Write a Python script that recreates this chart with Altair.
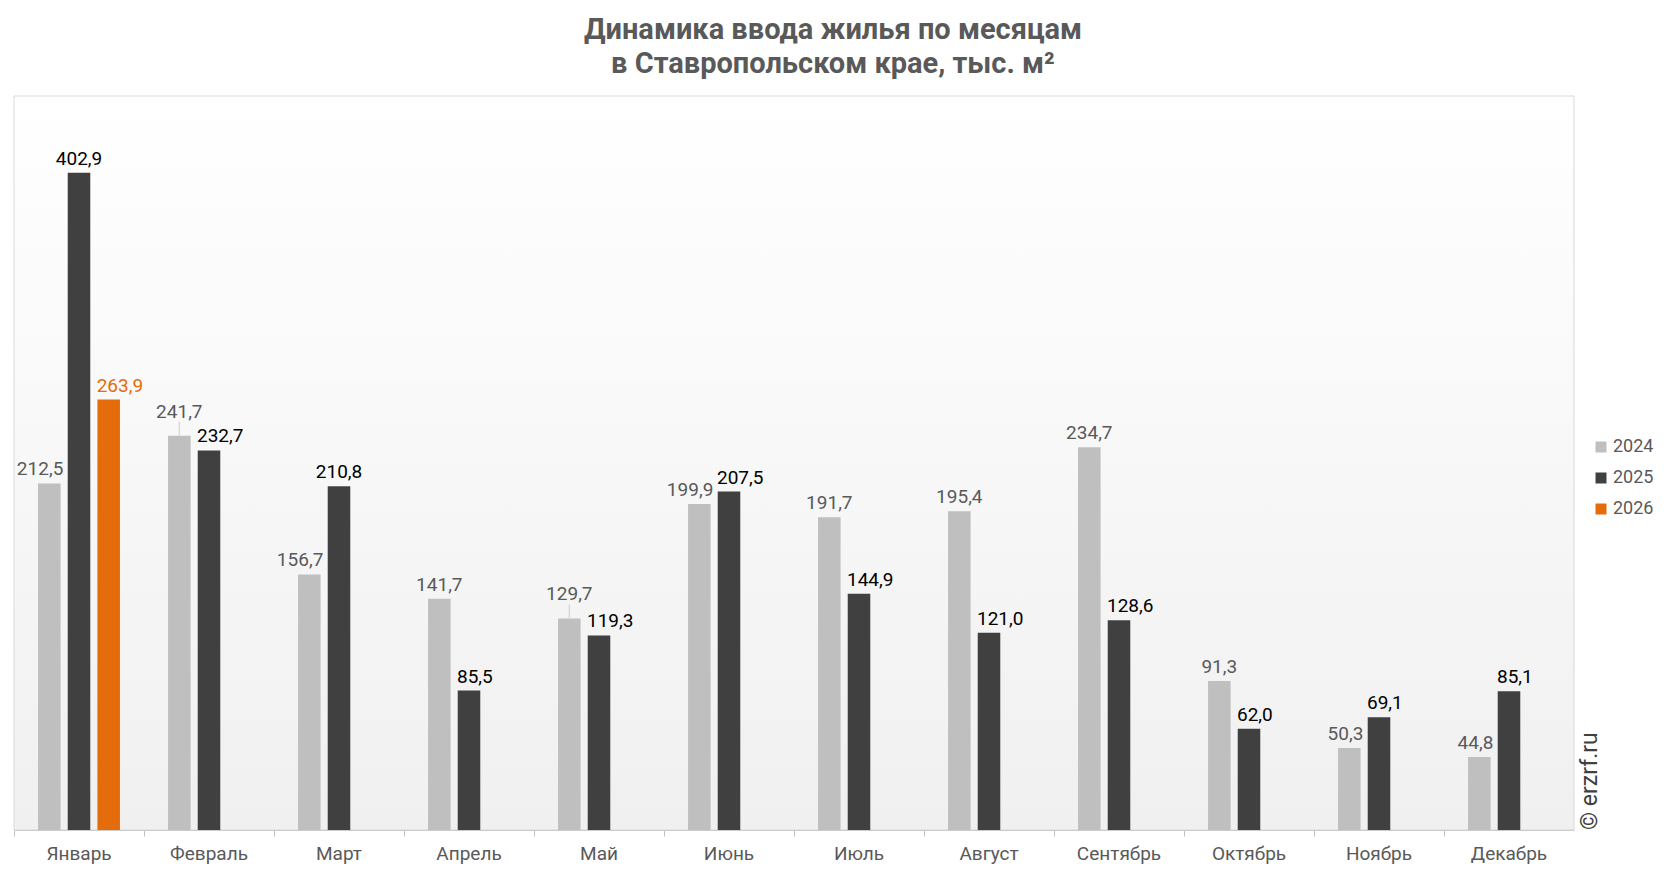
import altair as alt
import pandas as pd

months = ["Январь", "Февраль", "Март", "Апрель", "Май", "Июнь", "Июль",
          "Август", "Сентябрь", "Октябрь", "Ноябрь", "Декабрь"]
years = ["2024", "2025", "2026"]
v2024 = [212.5, 241.7, 156.7, 141.7, 129.7, 199.9, 191.7, 195.4, 234.7, 91.3, 50.3, 44.8]
v2025 = [402.9, 232.7, 210.8, 85.5, 119.3, 207.5, 144.9, 121.0, 128.6, 62.0, 69.1, 85.1]
v2026 = [263.9]  # January only

bar_colors = ["#bfbfbf", "#404040", "#e46c0a"]
label_colors = ["#595959", "#000000", "#e46c0a"]

rows = []
for i, m in enumerate(months):
    a, b = v2024[i], v2025[i]
    if b > a:
        p24 = "right"
    elif a - b < 15:
        p24 = "lift"
    else:
        p24 = "center"
    rows.append(dict(month=m, year="2024", value=a, pos=p24))
    rows.append(dict(month=m, year="2025", value=b, pos="center" if b - a > 45 else "left"))
for i, c in enumerate(v2026):
    rows.append(dict(month=months[i], year="2026", value=c, pos="left"))
df = pd.DataFrame(rows)
df["label"] = df["value"].map(lambda v: f"{v:.1f}".replace(".", ","))

FONT = "Roboto"

x = alt.X("month:N", sort=months, title=None,
          scale=alt.Scale(domain=months, paddingInner=0, paddingOuter=0),
          axis=alt.Axis(labelAngle=0, labelFont=FONT, labelFontSize=19, labelColor="#595959",
                        labelPadding=8, tickSize=6, tickColor="#bfbfbf", domainColor="#bfbfbf",
                        bandPosition=0, grid=False))
xo = alt.XOffset("year:N", scale=alt.Scale(domain=years, paddingInner=0.24, paddingOuter=0.81))
y = alt.Y("value:Q", scale=alt.Scale(domain=[0, 450]), axis=None)

bg = alt.Chart(pd.DataFrame({"a": [0]})).mark_rect(
    fill=alt.LinearGradient(gradient="linear",
                            stops=[alt.GradientStop(color="#ffffff", offset=0),
                                   alt.GradientStop(color="#f0f0f0", offset=1)],
                            x1=0, x2=0, y1=0, y2=1),
    stroke="#d9d9d9", strokeWidth=1
).encode(x=alt.value(0), x2=alt.value("width"), y=alt.value(0), y2=alt.value("height"))

bars = alt.Chart(df).mark_bar().encode(
    x=x, xOffset=xo, y=y,
    color=alt.Color("year:N", scale=alt.Scale(domain=years, range=bar_colors),
                    legend=alt.Legend(title=None, orient="none", legendX=1578, legendY=342,
                                      symbolType="square", symbolSize=121, labelFont=FONT,
                                      labelFontSize=18, labelColor="#595959", rowPadding=13,
                                      labelOffset=3, symbolStrokeWidth=0))
)

tcolor = alt.Color("year:N", scale=alt.Scale(domain=years, range=label_colors), legend=None)


def lab(pos, align, dx, dy=-8):
    return alt.Chart(df).transform_filter(alt.datum.pos == pos).mark_text(
        align=align, dx=dx, dy=dy, baseline="alphabetic", font=FONT, fontSize=19
    ).encode(x=x, xOffset=xo, y=y, text="label:N", color=tcolor)


lab_c = lab("center", "center", 0)
lab_r = lab("right", "right", 14)
lab_l = lab("left", "left", -12)
lab_u = lab("lift", "center", 0, -18)

leader = alt.Chart(df).transform_filter(alt.datum.pos == "lift").mark_rule(
    color="#d9d9d9", strokeWidth=1.5, y2Offset=-14
).encode(x=x, xOffset=xo, y=y, y2=alt.Y2("value:Q"))

cr = alt.Chart(pd.DataFrame({"t": ["© erzrf.ru"]})).mark_text(
    angle=270, align="left", baseline="alphabetic", font=FONT, fontSize=23, color="#404040"
).encode(text="t:N", x=alt.value(1583), y=alt.value(734))

title = alt.TitleParams(
    text=["Динамика ввода жилья по месяцам", "в Ставропольском крае, тыс. м²"],
    font=FONT, fontSize=29, fontWeight="bold", color="#595959", anchor="middle",
    dx=39, offset=17, lineHeight=34)

chart = alt.layer(bg, bars, leader, lab_c, lab_r, lab_l, lab_u, cr).resolve_scale(
    color="independent"
).properties(
    width=1560, height=734, title=title,
    autosize=alt.AutoSizeParams(type="none"),
    padding={"left": 6, "top": 88, "right": 84, "bottom": 34},
    background="#ffffff",
).configure_view(stroke=None)

chart.save("out.html", embed_options={"renderer": "svg", "actions": False})
